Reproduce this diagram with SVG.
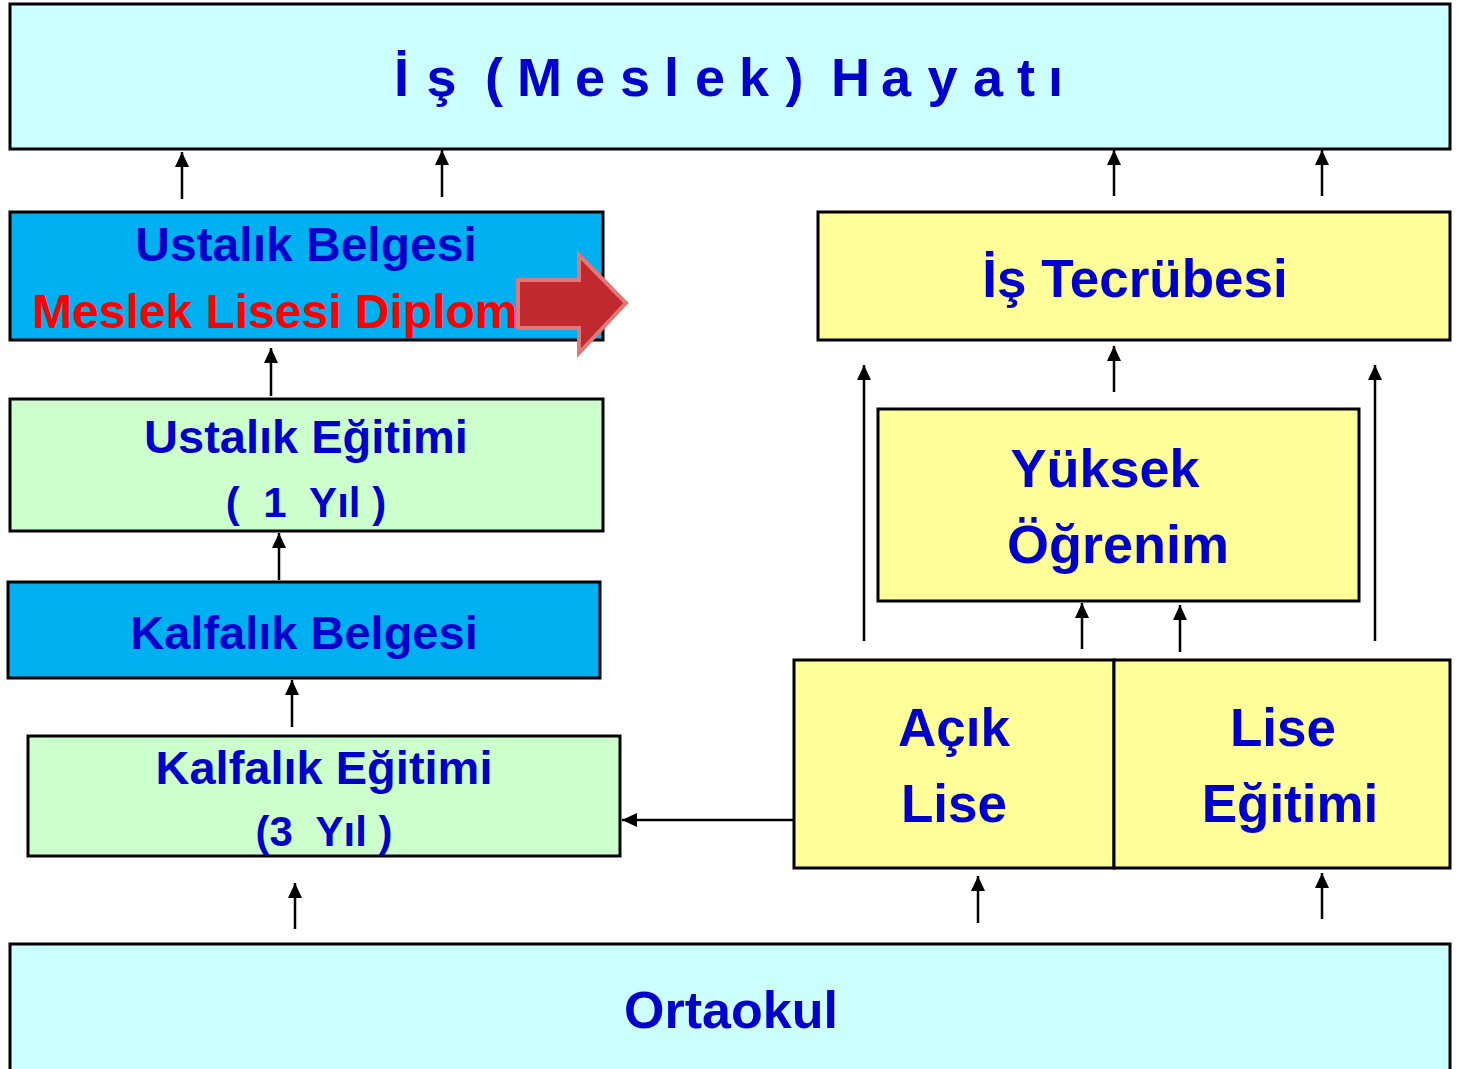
<svg xmlns="http://www.w3.org/2000/svg" width="1458" height="1069" viewBox="0 0 1458 1069">
<defs>
<style>
.box{stroke:#000;stroke-width:3}
.cyan{fill:#CCFFFF}
.blue{fill:#00B0F0}
.green{fill:#CCFFCC}
.yellow{fill:#FFFF99}
.t{font-family:"Liberation Sans",Arial,sans-serif;font-weight:bold;fill:#0000CC;text-anchor:middle}
.conn line{stroke:#000;stroke-width:2.5;marker-end:url(#ah)}
</style>
<marker id="ah" markerUnits="userSpaceOnUse" markerWidth="16" markerHeight="16" refX="15" refY="7" orient="auto">
<path d="M0,0 L15,7 L0,14 Z" fill="#000"/>
</marker>
</defs>
<rect width="1458" height="1069" fill="#fff"/>

<g id="is-hayati">
<rect class="box cyan" x="10" y="4" width="1440" height="145"/>
<text class="t" y="96" font-size="54" style="text-anchor:start" x="394 426.5 460 485 517 575 620 664 695 739 785.5 805 831 881 927.5 973 1017 1048">İş (Meslek) Hayatı</text>
</g>

<g id="ustalik-belgesi">
<rect class="box blue" x="10" y="212" width="593" height="128"/>
<text class="t" x="306" y="261" font-size="48">Ustalık Belgesi</text>
<text x="32" y="328" font-size="48" font-family="Liberation Sans,Arial,sans-serif" font-weight="bold" fill="#FF0000">Meslek Lisesi Diploması</text>
<path d="M518,280 L579,280 L579,255 L626,303 L579,353 L579,328 L518,328 Z" fill="#C0292D" stroke="#E07878" stroke-width="4"/>
</g>

<g id="ustalik-egitimi">
<rect class="box green" x="10" y="399" width="593" height="132"/>
<text class="t" x="306" y="453" font-size="47">Ustalık Eğitimi</text>
<text class="t" x="306" y="517" font-size="42" xml:space="preserve">(  1  Yıl )</text>
</g>

<g id="kalfalik-belgesi">
<rect class="box blue" x="8" y="582" width="592" height="96"/>
<text class="t" x="304" y="649" font-size="47">Kalfalık Belgesi</text>
</g>

<g id="kalfalik-egitimi">
<rect class="box green" x="28" y="736" width="592" height="120"/>
<text class="t" x="324" y="784" font-size="47">Kalfalık Eğitimi</text>
<text class="t" x="324" y="846" font-size="42" xml:space="preserve">(3  Yıl )</text>
</g>

<g id="ortaokul">
<rect class="box cyan" x="10" y="944" width="1440" height="140"/>
<text class="t" x="731" y="1028" font-size="52">Ortaokul</text>
</g>

<g id="is-tecrubesi">
<rect class="box yellow" x="818" y="212" width="632" height="128"/>
<text class="t" x="1135" y="297" font-size="53">İş Tecrübesi</text>
</g>

<g id="yuksek-ogrenim">
<rect class="box yellow" x="878" y="409" width="481" height="192"/>
<text class="t" x="1105" y="487" font-size="54">Yüksek</text>
<text class="t" x="1118" y="563" font-size="54">Öğrenim</text>
</g>

<g id="acik-lise">
<rect class="box yellow" x="794" y="660" width="320" height="208"/>
<text class="t" x="954" y="746" font-size="53">Açık</text>
<text class="t" x="954" y="822" font-size="53">Lise</text>
</g>

<g id="lise-egitimi">
<rect class="box yellow" x="1114" y="660" width="336" height="208"/>
<text class="t" x="1283" y="746" font-size="53">Lise</text>
<text class="t" x="1290" y="822" font-size="53">Eğitimi</text>
</g>

<g id="connectors" class="conn">
<line x1="182" y1="199" x2="182" y2="152"/>
<line x1="442" y1="197" x2="442" y2="150"/>
<line x1="1114" y1="196" x2="1114" y2="150"/>
<line x1="1322" y1="196" x2="1322" y2="150"/>
<line x1="271" y1="396" x2="271" y2="348"/>
<line x1="279" y1="580" x2="279" y2="533"/>
<line x1="292" y1="727" x2="292" y2="680"/>
<line x1="295" y1="929" x2="295" y2="883"/>
<line x1="864" y1="641" x2="864" y2="365"/>
<line x1="1375" y1="641" x2="1375" y2="365"/>
<line x1="1114" y1="392" x2="1114" y2="346"/>
<line x1="1082" y1="649" x2="1082" y2="603"/>
<line x1="1180" y1="652" x2="1180" y2="605"/>
<line x1="794" y1="820" x2="622" y2="820"/>
<line x1="978" y1="923" x2="978" y2="876"/>
<line x1="1322" y1="919" x2="1322" y2="873"/>
</g>
</svg>
